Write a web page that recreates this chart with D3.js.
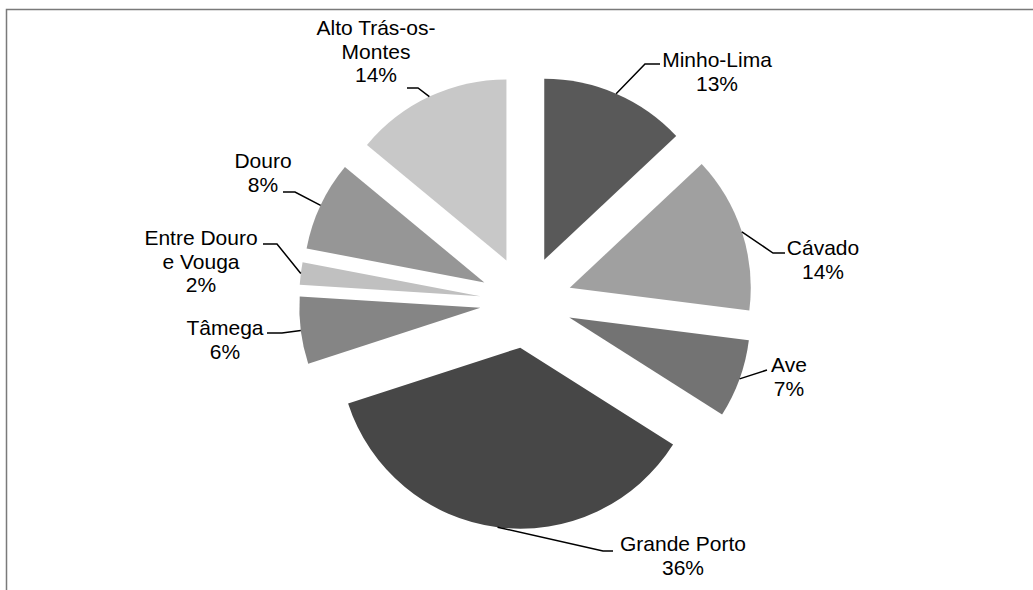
<!DOCTYPE html>
<html><head><meta charset="utf-8">
<script src="https://cdn.jsdelivr.net/npm/d3@7"></script>
<style>html,body{margin:0;padding:0;background:#fff;overflow:hidden}</style>
</head><body>
<svg id="c" width="1033" height="590"></svg>
<script>
const categories = ["Minho-Lima","Cávado","Ave","Grande Porto","Tâmega","Entre Douro e Vouga","Douro","Alto Trás-os-Montes"];
const values = [13,14,7,36,6,2,8,14];
const labelLines = [["Minho-Lima"],["Cávado"],["Ave"],["Grande Porto"],["Tâmega"],["Entre Douro","e Vouga"],["Douro"],["Alto Trás-os-","Montes"]];
const colors = ["#595959","#a0a0a0","#737373","#474747","#858585","#c0c0c0","#969696","#c8c8c8"];

// layout (label text centre x, first baseline y, leader elbow, leader end x)
const layout = [
  {tx:717, ty:67, elbow:[645,64], endX:660},
  {tx:823, ty:255, elbow:[773,253], endX:785},
  {tx:789, ty:372, elbow:[767,370], endX:767},
  {tx:683, ty:551, elbow:[603,551], endX:613},
  {tx:225, ty:335, elbow:[282,333], endX:267},
  {tx:201, ty:245, elbow:[277,244], endX:263},
  {tx:263, ty:168, elbow:[295,192], endX:283},
  {tx:376, ty:35, elbow:[418,88], endX:407}
];

const svg = d3.select("#c");
const cx = 526, cy = 302, R = 181, explode = 46, lh = 23.5;

svg.append("rect").attr("x",6.5).attr("y",9.5).attr("width",1100).attr("height",700)
  .attr("fill","none").attr("stroke","#7a7a7a").attr("stroke-width",1.5);

const pie = d3.pie().sort(null).value(d=>d)(values);
const arc = d3.arc().innerRadius(0).outerRadius(R);

const g = svg.append("g").attr("transform",`translate(${cx},${cy})`);

pie.forEach((p,i)=>{
  const mid = (p.startAngle+p.endAngle)/2;
  const ox = explode*Math.sin(mid), oy = -explode*Math.cos(mid);
  g.append("path").attr("d",arc(p)).attr("fill",colors[i])
    .attr("transform",`translate(${ox},${oy})`);
  // leader start on arc
  const sx = cx+ox+R*Math.sin(mid), sy = cy+oy-R*Math.cos(mid);
  const L = layout[i];
  svg.append("polyline")
    .attr("points",`${sx},${sy} ${L.elbow[0]},${L.elbow[1]} ${L.endX},${L.elbow[1]}`)
    .attr("fill","none").attr("stroke","#000").attr("stroke-width",1.5);
  const lines = labelLines[i].concat([values[i]+"%"]);
  const t = svg.append("text").attr("text-anchor","middle")
    .attr("font-family","'Liberation Sans', Arial, sans-serif").attr("font-size",21).attr("fill","#000");
  lines.forEach((s,k)=>{
    t.append("tspan").attr("x",L.tx).attr("y",L.ty+k*lh).text(s);
  });
});
</script>
</body></html>
